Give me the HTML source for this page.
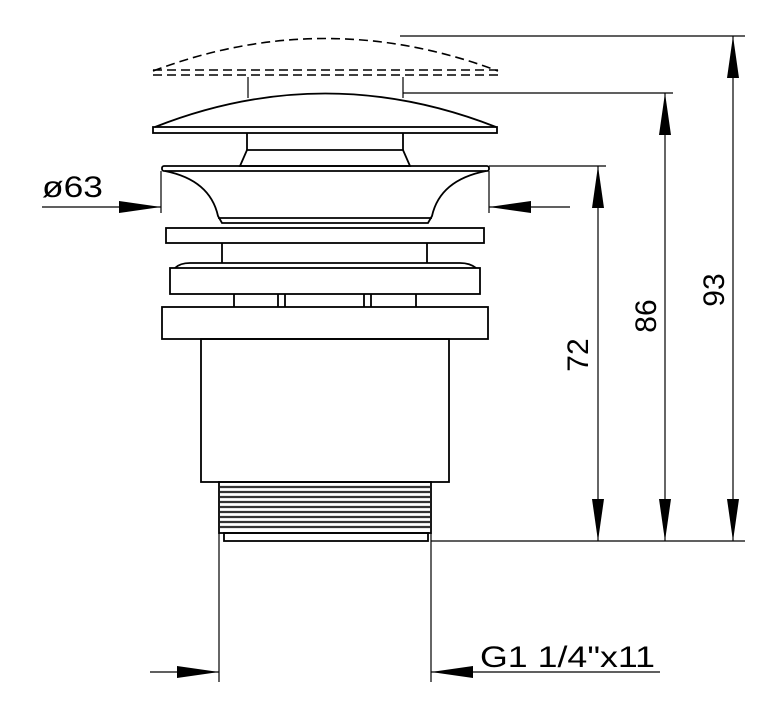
<!DOCTYPE html>
<html><head><style>html,body{margin:0;padding:0;background:#fff;}svg{display:block}</style></head><body>
<svg width="784" height="722" viewBox="0 0 784 722" xmlns="http://www.w3.org/2000/svg" font-family="Liberation Sans, sans-serif">
<g fill="none" stroke="#000" stroke-width="1.8">
<g stroke-dasharray="9,5" stroke-width="1.6">
<path d="M153,71 Q325,6 498,71"/>
<line x1="153" y1="70" x2="498" y2="70"/>
<line x1="153" y1="75" x2="498" y2="75"/>
</g>
<line x1="248" y1="77" x2="248" y2="98" stroke-width="1.2"/>
<line x1="403" y1="77" x2="403" y2="98" stroke-width="1.2"/>
<path d="M155,127 Q325,60 496,127"/>
<rect x="153" y="127" width="344" height="6"/>
<line x1="247" y1="133" x2="247" y2="150"/>
<line x1="403" y1="133" x2="403" y2="150"/>
<path d="M247,150 L403,150 L410,166 L240,166 Z"/>
<rect x="162" y="166" width="327" height="5" rx="2"/>
<path d="M165,171 Q210,180 218,216 L222,223 L428,223 L432,216 Q440,180 486,171"/>
<line x1="218" y1="218" x2="432" y2="218"/>
<line x1="161" y1="171" x2="161" y2="213" stroke-width="1.2"/>
<line x1="489" y1="171" x2="489" y2="213" stroke-width="1.2"/>
<rect x="166" y="228" width="318" height="15"/>
<line x1="222" y1="243" x2="222" y2="263"/>
<line x1="427" y1="243" x2="427" y2="263"/>
<path d="M175,268 Q180,263 190,263 L460,263 Q470,263 476,268"/>
<rect x="170" y="268" width="310" height="26"/>
<line x1="234" y1="294" x2="234" y2="307"/>
<line x1="278" y1="294" x2="278" y2="307"/>
<line x1="285" y1="294" x2="285" y2="307"/>
<line x1="364" y1="294" x2="364" y2="307"/>
<line x1="371" y1="294" x2="371" y2="307"/>
<line x1="416" y1="294" x2="416" y2="307"/>
<rect x="162" y="307" width="326" height="32"/>
<rect x="201" y="339" width="248" height="143"/>
<rect x="219" y="482" width="212" height="51"/>
<rect x="224" y="533" width="204" height="8"/>
</g>
<g stroke="#333" stroke-width="2.2">
<line x1="220" y1="487" x2="430" y2="487"/><line x1="220" y1="492" x2="430" y2="492"/>
<line x1="220" y1="497" x2="430" y2="497"/><line x1="220" y1="502" x2="430" y2="502"/>
<line x1="220" y1="507" x2="430" y2="507"/><line x1="220" y1="512" x2="430" y2="512"/>
<line x1="220" y1="517" x2="430" y2="517"/><line x1="220" y1="522" x2="430" y2="522"/>
<line x1="220" y1="527" x2="430" y2="527"/>
</g>
<g stroke="#000" stroke-width="1.2" fill="none">
<line x1="219" y1="533" x2="219" y2="682"/>
<line x1="431" y1="533" x2="431" y2="682"/>
<line x1="150" y1="672" x2="219" y2="672"/>
<line x1="431" y1="672" x2="660" y2="672"/>
<line x1="42" y1="207" x2="161" y2="207"/>
<line x1="489" y1="207" x2="570" y2="207"/>
<line x1="489" y1="166" x2="606" y2="166"/>
<line x1="403" y1="93" x2="673" y2="93"/>
<line x1="400" y1="36" x2="745" y2="36"/>
<line x1="431" y1="541" x2="745" y2="541"/>
<line x1="598" y1="166" x2="598" y2="541"/>
<line x1="665" y1="93" x2="665" y2="541"/>
<line x1="733" y1="36" x2="733" y2="541"/>
</g>
<g fill="#000">
<path d="M219,672 L177,666 L177,678 Z"/>
<path d="M431,672 L473,666 L473,678 Z"/>
<path d="M161,207 L119,201 L119,213 Z"/>
<path d="M489,207 L531,201 L531,213 Z"/>
<path d="M598,166 L592,208 L604,208 Z"/><path d="M598,541 L592,499 L604,499 Z"/>
<path d="M665,93 L659,135 L671,135 Z"/><path d="M665,541 L659,499 L671,499 Z"/>
<path d="M733,36 L727,78 L739,78 Z"/><path d="M733,541 L727,499 L739,499 Z"/>
</g>
<g font-size="30" fill="#000">
<text x="42" y="197" textLength="61" lengthAdjust="spacingAndGlyphs">ø63</text>
<text x="480" y="667" textLength="175" lengthAdjust="spacingAndGlyphs">G1 1/4"x11</text>
<text transform="translate(588,355) rotate(-90)" text-anchor="middle">72</text>
<text transform="translate(656,316) rotate(-90)" text-anchor="middle">86</text>
<text transform="translate(724,290) rotate(-90)" text-anchor="middle">93</text>
</g>
</svg>
</body></html>
